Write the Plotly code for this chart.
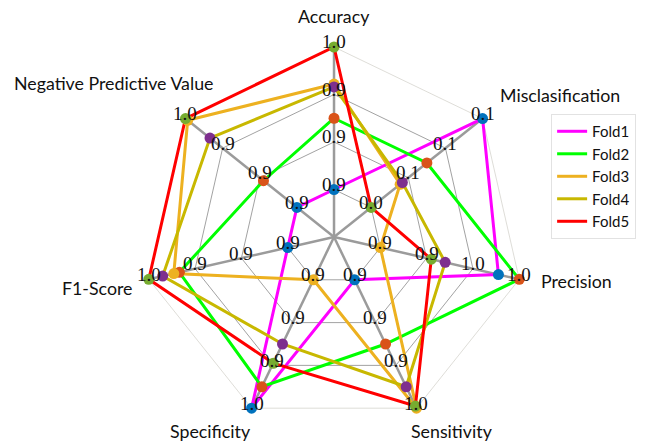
import math
import plotly.graph_objects as go

categories = ["Accuracy", "Misclasification", "Precision", "Sensitivity",
              "Specificity", "F1-Score", "Negative Predictive Value"]
folds = ["Fold1", "Fold2", "Fold3", "Fold4", "Fold5"]

# values per axis (order of categories), one list per fold
fold1 = [0.915, 0.085, 0.971, 0.900, 0.965, 0.910, 0.915]
fold2 = [0.940, 0.060, 0.980, 0.930, 0.955, 0.949, 0.930]
fold3 = [0.952, 0.048, 0.920, 0.960, 0.905, 0.951, 0.964]
fold4 = [0.951, 0.049, 0.948, 0.950, 0.935, 0.955, 0.954]
fold5 = [0.965, 0.035, 0.942, 0.959, 0.944, 0.960, 0.965]

line_colors = ["#FF00FF", "#00FF00", "#EDB120", "#C8B800", "#FF0000"]
marker_colors = ["#0072BD", "#D95319", "#EDB120", "#7E2F8E", "#77AC30"]

data = [fold1, fold2, fold3, fold4, fold5]
n = len(categories)
angles = [i * 360.0 / n for i in range(n)]

# per-axis limits from data
mins = [min(d[i] for d in data) for i in range(n)]
maxs = [max(d[i] for d in data) for i in range(n)]
n_int = 3
offset = 1
total = n_int + offset


def norm(v, i):
    t = (v - mins[i]) / (maxs[i] - mins[i])
    return (offset + n_int * t) / total


W, H = 664, 442
dom_x = [0.2169, 0.7892]
dom_y = [0.0339, 0.8937]
cxp = sum(dom_x) / 2
cyp = sum(dom_y) / 2
Rpx = 0.5 * min((dom_x[1] - dom_x[0]) * W, (dom_y[1] - dom_y[0]) * H)


def to_paper(r, theta):
    a = math.radians(theta)
    return cxp + r * Rpx * math.sin(a) / W, cyp + r * Rpx * math.cos(a) / H


fig = go.Figure()

# rings
for k in range(1, total + 1):
    rr = k / total
    fig.add_trace(go.Scatterpolar(
        r=[rr] * (n + 1), theta=angles + [angles[0]], mode="lines",
        line=dict(color="#8a8a8a" if k < total else "#d6d4ce", width=0.8),
        showlegend=False, hoverinfo="skip"))
# spokes
for i in range(n):
    fig.add_trace(go.Scatterpolar(
        r=[0, 1], theta=[angles[i], angles[i]], mode="lines",
        line=dict(color="#9b9b9b", width=2.5),
        showlegend=False, hoverinfo="skip"))

# fold lines
for name, d, lc in zip(folds, data, line_colors):
    rr = [norm(v, i) for i, v in enumerate(d)]
    fig.add_trace(go.Scatterpolar(
        r=rr + [rr[0]], theta=angles + [angles[0]], mode="lines",
        line=dict(color=lc, width=3), name=name, hoverinfo="skip"))

# markers
for name, d, mc in zip(folds, data, marker_colors):
    rr = [norm(v, i) for i, v in enumerate(d)]
    fig.add_trace(go.Scatterpolar(
        r=rr, theta=angles, mode="markers",
        marker=dict(color=mc, size=11), showlegend=False, hoverinfo="skip"))

annotations = []
# ring value labels
for i in range(n):
    for k in range(n_int + 1):
        val = mins[i] + k * (maxs[i] - mins[i]) / n_int
        px, py = to_paper((offset + k) / total, angles[i])
        annotations.append(dict(
            x=px, y=py, xref="paper", yref="paper", text=f"{val:.1f}",
            showarrow=False, xanchor="center", yanchor="middle", yshift=5,
            font=dict(family="Liberation Serif", size=19, color="#111111")))

# category labels
cat_r = [1.163, 1.405, 1.295, 1.195, 1.212, 1.276, 1.417]
cat_t = [0.0, 57.9, 100.3, 148.8, 212.4, 257.9, 304.9]
for name, r, t in zip(categories, cat_r, cat_t):
    px, py = to_paper(r, t)
    annotations.append(dict(
        x=px, y=py, xref="paper", yref="paper", text=name,
        showarrow=False, xanchor="center", yanchor="middle",
        font=dict(family="Lato", size=17.8, color="#111111")))

fig.update_layout(
    width=W, height=H,
    margin=dict(l=0, r=0, t=0, b=0),
    paper_bgcolor="white",
    polar=dict(
        domain=dict(x=dom_x, y=dom_y),
        bgcolor="rgba(0,0,0,0)",
        radialaxis=dict(visible=False, range=[0, 1]),
        angularaxis=dict(visible=False, rotation=90, direction="clockwise"),
    ),
    legend=dict(x=0.83, y=0.742, xanchor="left", yanchor="top",
                bordercolor="#e2e2e2", borderwidth=1, bgcolor="white",
                font=dict(family="Lato", size=15, color="#111111"),
                tracegroupgap=0, itemwidth=30),
    showlegend=True,
    annotations=annotations,
)

fig.write_html("out.html", config={"displayModeBar": False},
               post_script="document.body.style.margin='0';")
